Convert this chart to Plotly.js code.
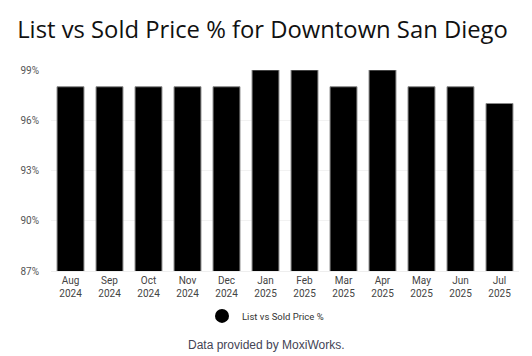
<!DOCTYPE html>
<html>
<head>
<meta charset="utf-8">
<script src="https://cdn.plot.ly/plotly-3.0.1.min.js"></script>
<style>html,body{margin:0;padding:0;background:#fff;}#chart{width:532px;height:356px;}</style>
</head>
<body>
<div id="chart"></div>
<script>
const categories = ["Aug<br>2024","Sep<br>2024","Oct<br>2024","Nov<br>2024","Dec<br>2024","Jan<br>2025","Feb<br>2025","Mar<br>2025","Apr<br>2025","May<br>2025","Jun<br>2025","Jul<br>2025"];
const listVsSold = [98, 98, 98, 98, 98, 99, 99, 98, 99, 98, 98, 97];
const yTicks = [87, 90, 93, 96, 99];
const yTickLabels = yTicks.map(v => v + "%");
const seriesName = "List vs Sold Price %";

const traces = [
  {
    type: "bar",
    x: categories,
    y: listVsSold,
    marker: {color: "#000000", line: {color: "#888888", width: 1}},
    showlegend: false,
    hoverinfo: "x+y"
  },
  {
    type: "scatter",
    mode: "markers",
    x: [null],
    y: [null],
    name: seriesName,
    marker: {color: "#000000", size: 14, symbol: "circle"}
  }
];

const layout = {
  width: 532,
  height: 356,
  margin: {l: 51, r: 13, t: 69.5, b: 85},
  paper_bgcolor: "#ffffff",
  plot_bgcolor: "#ffffff",
  bargap: 0.31,
  title: {
    text: "List vs Sold Price % for Downtown San Diego",
    font: {family: "Open Sans, sans-serif", size: 23.8, color: "#111111"},
    x: 262.5 / 532, xanchor: "center",
    y: 1 - 30/356, yanchor: "middle", yref: "container"
  },
  xaxis: {
    type: "category",
    tickfont: {family: "Roboto, Arial, sans-serif", size: 10, color: "#444444"},
    showgrid: false,
    showline: true,
    linecolor: "#eeeeee",
    ticks: "",
    fixedrange: true
  },
  yaxis: {
    range: [87, 99],
    tickmode: "array",
    tickvals: yTicks,
    ticktext: yTickLabels,
    tickfont: {family: "Roboto, Arial, sans-serif", size: 10, color: "#555555"},
    ticklabelstandoff: 11,
    gridcolor: "#f2f2f2",
    zeroline: false,
    ticks: "",
    ticklen: 0,
    fixedrange: true
  },
  showlegend: true,
  legend: {
    orientation: "h",
    x: (202 - 51) / 468, xanchor: "left",
    y: -45/201.5, yanchor: "middle",
    itemwidth: 30,
    font: {family: "Roboto, Arial, sans-serif", size: 9.5, color: "#333333"}
  },
  annotations: [{
    text: "Data provided by MoxiWorks.",
    xref: "paper", yref: "paper",
    x: (266 - 51) / 468, xanchor: "center",
    y: -74/201.5, yanchor: "middle",
    showarrow: false,
    font: {family: "Arial, Liberation Sans, sans-serif", size: 12, color: "#444455"}
  }]
};

Plotly.newPlot("chart", traces, layout, {displayModeBar: false, staticPlot: true});
</script>
</body>
</html>
